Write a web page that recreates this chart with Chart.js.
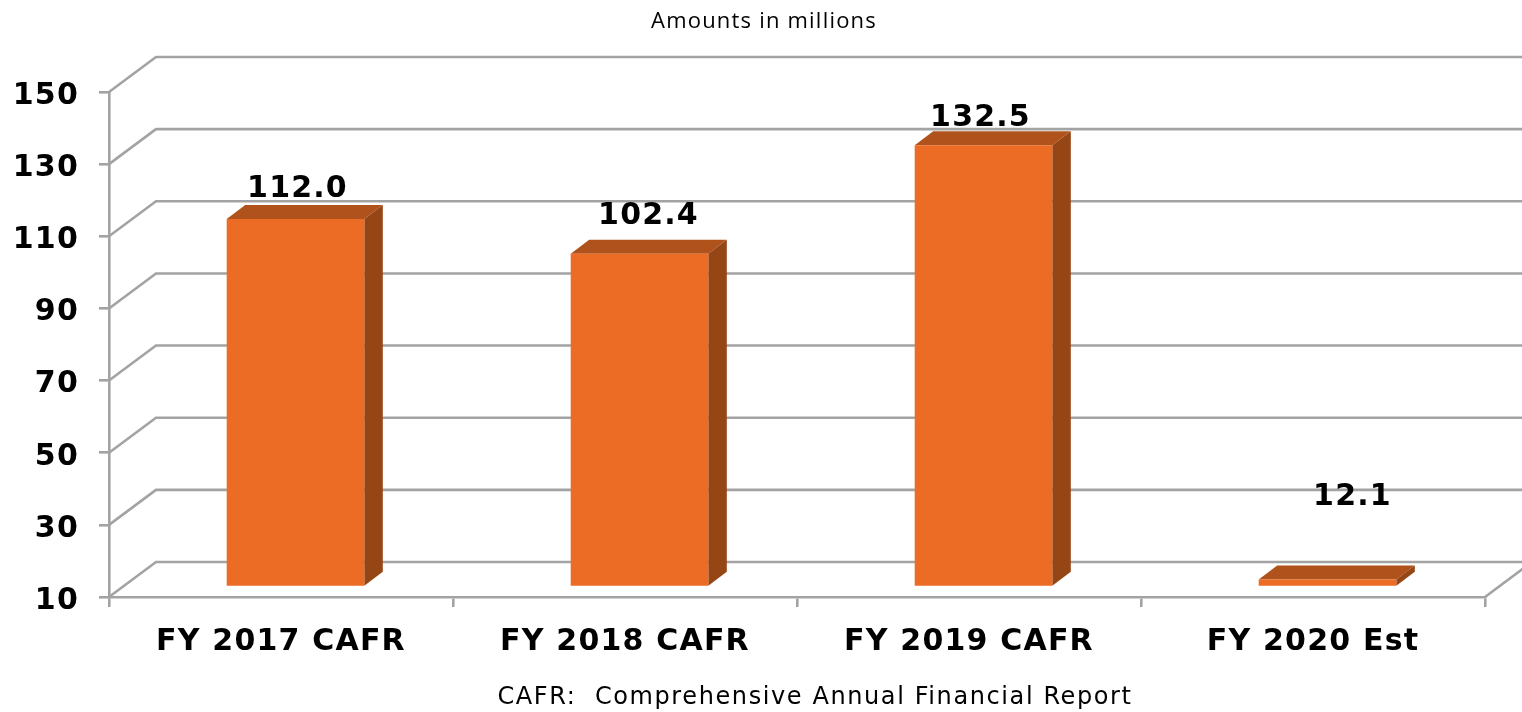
<!DOCTYPE html>
<html>
<head>
<meta charset="utf-8">
<style>html,body{margin:0;padding:0;background:#fff}canvas{display:block}</style>
<script src="https://cdn.jsdelivr.net/npm/chart.js@4"></script>
</head>
<body>
<div style="width:1522px;height:712px"><canvas id="c" width="1522" height="712"></canvas></div>
<script>
const categories = ['FY 2017 CAFR', 'FY 2018 CAFR', 'FY 2019 CAFR', 'FY 2020 Est'];
const values = [112.0, 102.4, 132.5, 12.1];
const titleText = 'Amounts in millions';
const footnoteText = 'CAFR:  Comprehensive Annual Financial Report';

const GRID = '#a3a3a3', FRONT = '#ec6b25', TOP = '#b0521b', SIDE = '#964514';
const LINE = 2.6;
const WALL = {dx: 47, dy: -35};
const BAR_SHIFT = {dx: 14.5, dy: -10};
const BAR_DEPTH = {dx: 18.5, dy: -14};
const LABEL_NUDGE = [{x: 2, y: -22}, {x: 9, y: -30}, {x: -3, y: -19}, {x: 25, y: -74}];

const threeD = {
  id: 'threeD',
  beforeDraw(chart) {
    chart.ctx.letterSpacing = '1.2px';
  },
  afterLayout(chart) {
    chart.titleBlock.left = 6;
    chart.titleBlock.right = 1522;
  },
  beforeDatasetsDraw(chart) {
    const {ctx, scales: {x, y}, chartArea: a} = chart;
    ctx.save();
    ctx.strokeStyle = GRID; ctx.lineWidth = LINE;
    y.ticks.forEach(t => {
      const py = y.getPixelForValue(t.value);
      ctx.beginPath();
      ctx.moveTo(a.left, py);
      ctx.lineTo(a.left + WALL.dx, py + WALL.dy);
      ctx.lineTo(1522, py + WALL.dy);
      ctx.stroke();
    });
    ctx.beginPath();
    ctx.moveTo(a.right, a.bottom);
    ctx.lineTo(a.right + WALL.dx, a.bottom + WALL.dy);
    ctx.stroke();
    ctx.restore();
    const meta = chart.getDatasetMeta(0);
    ctx.save();
    ctx.translate(BAR_SHIFT.dx, BAR_SHIFT.dy);
    meta.data.forEach(b => {
      const l = b.x - b.width / 2, r = b.x + b.width / 2, t = b.y, bt = b.base;
      const {dx, dy} = BAR_DEPTH;
      ctx.fillStyle = TOP;
      ctx.beginPath();
      ctx.moveTo(l, t); ctx.lineTo(l + dx, t + dy); ctx.lineTo(r + dx, t + dy); ctx.lineTo(r, t);
      ctx.closePath(); ctx.fill();
      ctx.fillStyle = SIDE;
      ctx.beginPath();
      ctx.moveTo(r, t); ctx.lineTo(r + dx, t + dy); ctx.lineTo(r + dx, bt + dy); ctx.lineTo(r, bt);
      ctx.closePath(); ctx.fill();
    });
    ctx.restore();
    ctx.save();
    ctx.translate(BAR_SHIFT.dx, BAR_SHIFT.dy);
  },
  afterDatasetsDraw(chart) {
    const {ctx} = chart;
    ctx.restore();
    const meta = chart.getDatasetMeta(0);
    ctx.save();
    ctx.font = 'bold 30px "DejaVu Sans"';
    ctx.fillStyle = '#000';
    ctx.textAlign = 'center';
    ctx.textBaseline = 'alphabetic';
    meta.data.forEach((b, i) => {
      ctx.fillText(values[i].toFixed(1), b.x + BAR_SHIFT.dx + LABEL_NUDGE[i].x, b.y + BAR_SHIFT.dy + LABEL_NUDGE[i].y);
    });
    ctx.font = '24px "DejaVu Sans"';
    ctx.letterSpacing = '1.6px';
    ctx.fillText(footnoteText, 815, 704);
    ctx.restore();
  }
};

new Chart(document.getElementById('c'), {
  type: 'bar',
  data: {
    labels: categories,
    datasets: [{data: values, base: 10, backgroundColor: FRONT, borderWidth: 0, barPercentage: 0.4, categoryPercentage: 1}]
  },
  plugins: [threeD],
  options: {
    responsive: false,
    animation: false,
    layout: {padding: {left: 0, right: 37, top: 0, bottom: 0}},
    plugins: {
      legend: {display: false},
      tooltip: {enabled: false},
      title: {
        display: true, text: titleText, color: '#000',
        font: {family: '"Open Sans"', size: 22, weight: 'normal'},
        padding: {top: 9, bottom: 56.6}
      }
    },
    scales: {
      x: {
        afterFit(s) { s.height = 115; },
        border: {color: GRID, width: LINE},
        grid: {drawOnChartArea: false, drawTicks: true, tickLength: 10, color: GRID, lineWidth: LINE},
        ticks: {color: '#000', padding: 17, maxRotation: 0, font: {family: '"DejaVu Sans"', size: 30, weight: 'bold'}}
      },
      y: {
        min: 10, max: 150,
        afterFit(s) { s.width = 109; },
        border: {color: GRID, width: LINE},
        grid: {drawOnChartArea: false, drawTicks: true, tickLength: 10, color: GRID, lineWidth: LINE},
        ticks: {stepSize: 20, color: '#000', padding: 20, labelOffset: 4, font: {family: '"DejaVu Sans"', size: 30, weight: 'bold'}}
      }
    }
  }
});
</script>
</body>
</html>
